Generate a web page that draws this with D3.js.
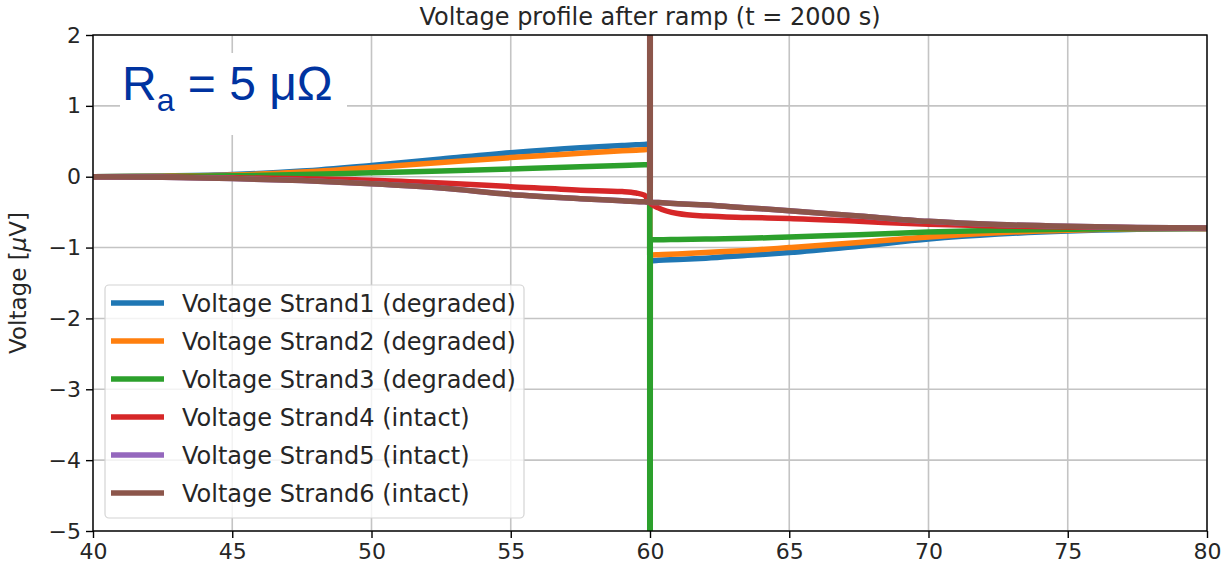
<!DOCTYPE html>
<html>
<head>
<meta charset="utf-8">
<script src="https://cdn.jsdelivr.net/npm/d3@7"></script>
<style>
  body { margin: 0; background: #fff; }
  svg { display: block; }
  text { font-family: "DejaVu Sans", sans-serif; fill: #262626; }
</style>
</head>
<body>
<svg></svg>
<script>
// values (x = position, y = voltage in microvolt)
const xValues = [40, 42.5, 45, 47.5, 50, 52.5, 55, 57.5, 59, 59.5, 59.8, 59.99, 60, 60.01,
  60.3, 61, 62, 63.5, 65, 67.5, 70, 72.5, 75, 77.5, 80];

const strand1 = [0, 0.01, 0.03, 0.08, 0.16, 0.25, 0.34, 0.41, 0.44, 0.45, 0.455, 0.46, -50, -1.19,
  -1.18, -1.17, -1.15, -1.11, -1.07, -0.98, -0.88, -0.81, -0.765, -0.74, -0.73];
const strand2 = [0, 0.008, 0.025, 0.065, 0.13, 0.2, 0.27, 0.33, 0.365, 0.375, 0.38, 0.385, -50, -1.11,
  -1.1, -1.09, -1.07, -1.04, -1.0, -0.93, -0.85, -0.79, -0.755, -0.735, -0.73];
const strand3 = [0, 0.004, 0.012, 0.03, 0.055, 0.08, 0.11, 0.14, 0.16, 0.165, 0.168, 0.17, -50, -0.89,
  -0.89, -0.885, -0.88, -0.87, -0.85, -0.82, -0.78, -0.755, -0.74, -0.73, -0.73];
const strand4 = [0, -0.005, -0.015, -0.03, -0.05, -0.09, -0.14, -0.19, -0.21, -0.23, -0.26, -0.34, 50, -0.37,
  -0.44, -0.52, -0.555, -0.575, -0.59, -0.63, -0.67, -0.695, -0.71, -0.72, -0.73];
const strand5 = [0, -0.008, -0.025, -0.055, -0.1, -0.16, -0.25, -0.31, -0.34, -0.35, -0.355, -0.36, 50, -0.36,
  -0.365, -0.38, -0.4, -0.44, -0.48, -0.555, -0.63, -0.675, -0.7, -0.715, -0.725];
const strand6 = [0, -0.008, -0.025, -0.055, -0.1, -0.16, -0.25, -0.31, -0.34, -0.35, -0.355, -0.36, 50, -0.36,
  -0.365, -0.38, -0.4, -0.44, -0.48, -0.555, -0.63, -0.675, -0.7, -0.715, -0.725];

const seriesNames = [
  "Voltage Strand1 (degraded)",
  "Voltage Strand2 (degraded)",
  "Voltage Strand3 (degraded)",
  "Voltage Strand4 (intact)",
  "Voltage Strand5 (intact)",
  "Voltage Strand6 (intact)"
];
const seriesColors = ["#1f77b4", "#ff7f0e", "#2ca02c", "#d62728", "#9467bd", "#8c564b"];
const xTicks = [40, 45, 50, 55, 60, 65, 70, 75, 80];
const yTicks = [-5, -4, -3, -2, -1, 0, 1, 2];

const width = 1223;
const height = 569;
const margin = { top: 35, right: 16, bottom: 38, left: 93 };

const svg = d3.select("svg")
  .attr("width", width)
  .attr("height", height);

const x = d3.scaleLinear().domain([40, 80]).range([margin.left, width - margin.right]);
const y = d3.scaleLinear().domain([-5, 2]).range([height - margin.bottom, margin.top]);

// grid
svg.append("g")
  .selectAll("line")
  .data(xTicks)
  .join("line")
  .attr("x1", d => x(d)).attr("x2", d => x(d))
  .attr("y1", y(2)).attr("y2", y(-5))
  .attr("stroke", "#c4c4c4").attr("stroke-width", 1.6);
svg.append("g")
  .selectAll("line")
  .data(yTicks)
  .join("line")
  .attr("x1", x(40)).attr("x2", x(80))
  .attr("y1", d => y(d)).attr("y2", d => y(d))
  .attr("stroke", "#c4c4c4").attr("stroke-width", 1.6);

svg.append("clipPath").attr("id", "plot")
  .append("rect")
  .attr("x", x(40)).attr("y", y(2))
  .attr("width", x(80) - x(40)).attr("height", y(-5) - y(2));

const allSeries = [strand1, strand2, strand3, strand4, strand5, strand6];

const line = d3.line()
  .x((d, i) => x(xValues[i]))
  .y(d => y(d))
  .curve(d3.curveMonotoneX);

svg.append("g")
  .attr("clip-path", "url(#plot)")
  .selectAll("path")
  .data(allSeries)
  .join("path")
  .attr("d", d => line(d))
  .attr("fill", "none")
  .attr("stroke", (d, i) => seriesColors[i])
  .attr("stroke-width", 5.5);

// axes
const xAxis = svg.append("g")
  .attr("transform", `translate(0,${y(-5)})`)
  .call(d3.axisBottom(x).tickValues(xTicks).tickSize(7).tickPadding(5).tickFormat(d3.format("d")));
const yAxis = svg.append("g")
  .attr("transform", `translate(${x(40)},0)`)
  .call(d3.axisLeft(y).tickValues(yTicks).tickSize(7).tickPadding(5).tickFormat(d => d < 0 ? "\u2212" + Math.abs(d) : d));

[xAxis, yAxis].forEach(a => {
  a.select(".domain").remove();
  a.selectAll(".tick line").attr("stroke", "#000").attr("stroke-width", 1.4);
  a.selectAll(".tick text").attr("font-size", 22).attr("font-family", "DejaVu Sans").attr("fill", "#262626");
});

// frame
svg.append("rect")
  .attr("x", x(40)).attr("y", y(2))
  .attr("width", x(80) - x(40)).attr("height", y(-5) - y(2))
  .attr("fill", "none").attr("stroke", "#000").attr("stroke-width", 1.4);

svg.append("text")
  .attr("x", (x(40) + x(80)) / 2)
  .attr("y", 25)
  .attr("text-anchor", "middle")
  .attr("font-size", 24)
  .text("Voltage profile after ramp (t = 2000 s)");

const yLabel = svg.append("text")
  .attr("transform", `translate(26,${(y(2) + y(-5)) / 2}) rotate(-90)`)
  .attr("text-anchor", "middle")
  .attr("font-size", 23);
yLabel.append("tspan").text("Voltage [");
yLabel.append("tspan").attr("font-style", "italic").text("\u03bc");
yLabel.append("tspan").text("V]");

// legend
const legend = svg.append("g");
legend.append("rect")
  .attr("x", 105).attr("y", 285)
  .attr("width", 419).attr("height", 233)
  .attr("rx", 4)
  .attr("fill", "rgba(255,255,255,0.8)")
  .attr("stroke", "#d4d4d4").attr("stroke-width", 1.2);

const entry = legend.selectAll(".entry")
  .data(seriesNames)
  .join("g")
  .attr("class", "entry")
  .attr("transform", (d, i) => `translate(0,${303 + i * 38})`);
entry.append("line")
  .attr("x1", 111).attr("x2", 164)
  .attr("stroke", (d, i) => seriesColors[i])
  .attr("stroke-width", 5.5);
entry.append("text")
  .attr("x", 182).attr("y", 8.5)
  .attr("font-size", 24)
  .text(d => d);

// annotation box
svg.append("rect")
  .attr("x", 120).attr("y", 53)
  .attr("width", 227).attr("height", 82)
  .attr("fill", "#fff");
const note = svg.append("text")
  .attr("x", 122).attr("y", 100)
  .style("font-family", "'Liberation Sans', Arial, sans-serif")
  .style("fill", "#0033a0")
  .attr("font-size", 48);
note.append("tspan").text("R");
note.append("tspan").attr("font-size", 32).attr("dy", 11).text("a");
note.append("tspan").attr("dy", -11).text(" = 5 \u03bc\u03a9");
</script>
</body>
</html>
